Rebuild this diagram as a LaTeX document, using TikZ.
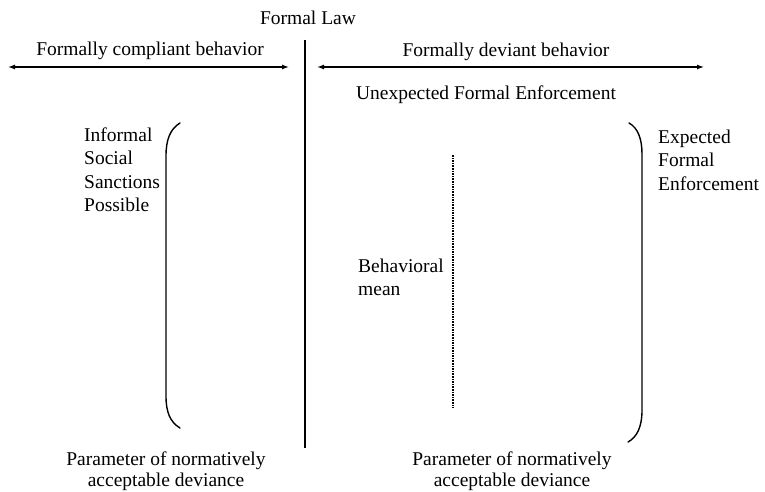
\documentclass[tikz,border=0pt]{standalone}
\usepackage{fontspec}
\setmainfont{Liberation Serif}
\usetikzlibrary{arrows.meta}
\begin{document}
\begin{tikzpicture}[x=1pt,y=-1pt,
  lbl/.style={inner sep=0pt,font=\fontsize{19.5}{23.5}\selectfont},
  lblL/.style={lbl,align=left,anchor=west},
  lblC/.style={lbl,align=center},
  lblB/.style={inner sep=0pt,align=center,font=\fontsize{19.5}{21}\selectfont},
  spanarrow/.style={line width=1.3pt,{Latex[length=7pt,width=5pt]}-{Latex[length=7pt,width=5pt]}},
  bracketline/.style={line width=1.4pt,line cap=round},
  divider/.style={line width=1.6pt},
  meanline/.style={line width=1.3pt,dash pattern=on 1.6pt off 1pt}]
\useasboundingbox (0,0) rectangle (765,492);

% the formal law divider
\node[lblC] (law) at (308,18) {Formal Law};
\coordinate (lawtop) at (305,40);
\coordinate (lawbot) at (305,448);
\draw[divider] (lawtop) -- (lawbot);

% behaviour ranges on both sides of the law
\node[lblC] (compliant) at (150,51) {Formally compliant behavior};
\coordinate (cl) at (8,67);
\coordinate (cr) at (289,67);
\draw[spanarrow] (cl) -- (cr);

\node[lblC] (deviant) at (506,52) {Formally deviant behavior};
\coordinate (dl) at (317,67);
\coordinate (dr) at (704,67);
\draw[spanarrow] (dl) -- (dr);

\node[lblC] (unexp) at (486,95) {Unexpected Formal Enforcement};

% left parameter bracket
\node[lblL] (informal) at (84,169.5) {Informal\\Social\\Sanctions\\Possible};
\coordinate (lbt) at (180,123);
\coordinate (lbb) at (180,428);
\draw[bracketline] (lbt) .. controls (170,129) and (166,140) .. (166,156)
  -- (166,396) .. controls (166,412) and (170,422) .. (lbb);
\node[lblB] (leftparam) at (166,471) {Parameter of normatively\\acceptable deviance};

% right parameter bracket
\node[lblL] (expected) at (658,160) {Expected\\Formal\\Enforcement};
\coordinate (rbt) at (629,123);
\coordinate (rbb) at (628,442);
\draw[bracketline] (rbt) .. controls (638,128) and (642,139) .. (642,154)
  -- (642,410) .. controls (642,427) and (637,437) .. (rbb);
\node[lblB] (rightparam) at (512,471) {Parameter of normatively\\acceptable deviance};

% behavioural mean
\node[lblL] (mean) at (358,277.5) {Behavioral\\mean};
\coordinate (mtop) at (453,155);
\coordinate (mbot) at (453,408);
\draw[meanline] (mtop) -- (mbot);
\end{tikzpicture}
\end{document}
